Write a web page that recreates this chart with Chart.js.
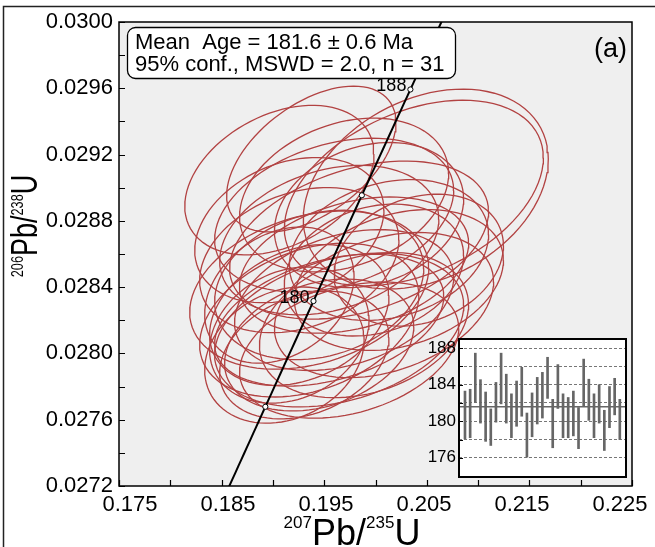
<!DOCTYPE html>
<html>
<head>
<meta charset="utf-8">
<script src="https://cdn.jsdelivr.net/npm/chart.js@4.4.0/dist/chart.umd.min.js"></script>
<style>
  html, body { margin: 0; padding: 0; background: #fff; }
  #wrap { position: relative; width: 655px; height: 547px; overflow: hidden; }
  #main { position: absolute; left: 0; top: 0; }
  #inset { position: absolute; left: 420px; top: 330px; }
</style>
</head>
<body>
<div id="wrap">
  <canvas id="main" width="655" height="547"></canvas>
  <canvas id="inset" width="212" height="152"></canvas>
</div>
<script>
// axis ticks
const xTicks = [0.175, 0.185, 0.195, 0.205, 0.215, 0.225];
const yTicks = [0.0272, 0.0276, 0.0280, 0.0284, 0.0288, 0.0292, 0.0296, 0.0300];

// spot analyses: 207Pb/235U, 206Pb/238U, 2s errors, error correlation
const r75 = [0.19063, 0.19374, 0.20490, 0.20374, 0.19694, 0.19937, 0.19549, 0.20131, 0.19257, 0.19791,
             0.20228, 0.19451, 0.19063, 0.19694, 0.20083, 0.19257, 0.19549, 0.19888, 0.19160, 0.19451,
             0.19743, 0.19306, 0.19112, 0.19646, 0.19354, 0.19985, 0.19597, 0.19160, 0.19840, 0.20422, 0.19354];
const r68 = [0.029046, 0.029173, 0.028992, 0.028968, 0.028956, 0.028835, 0.028684, 0.028624, 0.028563, 0.028533,
             0.028443, 0.028413, 0.028352, 0.028322, 0.028292, 0.028232, 0.028201, 0.028171, 0.028111, 0.028051,
             0.028020, 0.027990, 0.027990, 0.028141, 0.028382, 0.028503, 0.028835, 0.028744, 0.028684, 0.028563, 0.028201];
const e75 = [0.00922, 0.00825, 0.01194, 0.01262, 0.01019, 0.00922, 0.01068, 0.00971, 0.00971, 0.01117,
             0.01019, 0.01019, 0.00728, 0.01068, 0.01068, 0.00874, 0.01117, 0.01019, 0.00777, 0.00922,
             0.01068, 0.00825, 0.00777, 0.01214, 0.01165, 0.00874, 0.01165, 0.00922, 0.01262, 0.00825, 0.01068];
const e68 = [0.000451, 0.000440, 0.000603, 0.000560, 0.000464, 0.000438, 0.000451, 0.000425, 0.000438, 0.000411,
             0.000425, 0.000451, 0.000411, 0.000425, 0.000438, 0.000425, 0.000398, 0.000438, 0.000411, 0.000398,
             0.000411, 0.000385, 0.000411, 0.000464, 0.000477, 0.000398, 0.000464, 0.000438, 0.000477, 0.000398, 0.000464];
const rho = [0.35, 0.50, 0.30, 0.38, 0.28, 0.22, 0.28, 0.22, 0.28, 0.32, 0.28, 0.22, 0.28, 0.32, 0.32, 0.28,
             0.36, 0.28, 0.22, 0.28, 0.32, 0.28, 0.22, 0.32, 0.28, 0.22, 0.32, 0.28, 0.36, 0.22, 0.32];

// concordia (ages in Ma)
const L238 = 1.55125e-4, L235 = 9.8485e-4; // per Ma
const markerAges = [176, 180, 184, 188];
const labelledAges = [180, 188];

// inset: 206Pb/238U ages of each spot (low / high of error bar)
const ageLow = [178.07, 178.2, 182.07, 179.8, 177.8, 177.35, 179.9, 181.9, 179.8, 178.2, 179.45, 180.55, 176.07,
                178.3, 179.7, 180.35, 182.5, 177.1, 181.4, 178.2, 178.2, 178.4, 177.0, 181.7, 180.1, 178.2,
                179.8, 176.8, 179.3, 180.7, 178.0];
const ageHigh = [183.3, 183.5, 187.45, 184.55, 183.2, 181.35, 184.25, 187.45, 185.15, 183.0, 184.4, 185.9, 180.9,
                 183.1, 184.8, 185.35, 187.0, 182.4, 186.2, 183.0, 182.6, 183.3, 181.5, 186.8, 184.6, 183.0,
                 184.0, 181.2, 183.8, 184.7, 182.4];
const insetGrid = [176, 178, 180, 182, 184, 186, 188];
const insetLabels = [176, 180, 184, 188];
const meanAge = 181.6;

const legendLines = ['Mean  Age = 181.6 \u00b1 0.6 Ma', '95% conf., MSWD = 2.0, n = 31'];

const FONT = '"Liberation Sans", Arial, sans-serif';
Chart.defaults.font.family = FONT;
Chart.defaults.color = '#000';

function ellipsePoints(i) {
    let pts = [];
    let s = Math.sqrt(1 - rho[i] * rho[i]);
    for (let k = 0; k <= 90; k++) {
        let t = k / 90 * Math.PI * 2;
        pts.push({
            x: r75[i] + e75[i] * Math.cos(t),
            y: r68[i] + e68[i] * (rho[i] * Math.cos(t) + s * Math.sin(t))
        });
    }
    return pts;
}

function concordiaPoint(age) {
    return { x: Math.exp(L235 * age) - 1, y: Math.exp(L238 * age) - 1 };
}

let curve = [];
for (let a = 168; a <= 196; a += 0.25) curve.push(concordiaPoint(a));

let datasets = [];
datasets.push({
    data: markerAges.map(concordiaPoint), showLine: false, order: -2,
    pointRadius: 2.6, pointBackgroundColor: '#fff', pointBorderColor: '#000', pointBorderWidth: 1
});
datasets.push({
    data: curve, showLine: true, order: -1, pointRadius: 0, borderColor: '#000', borderWidth: 2
});
for (let i = 0; i < r75.length; i++) {
    datasets.push({
        data: ellipsePoints(i), showLine: true, pointRadius: 0, order: 1,
        borderColor: '#b24242', borderWidth: 1.3, tension: 0
    });
}

function drawSup(ctx, parts, cx, base) {
    let total = 0;
    parts.forEach(p => { ctx.font = p.font; p.w = ctx.measureText(p.text).width; total += p.w; });
    let x = cx - total / 2;
    ctx.textAlign = 'left';
    ctx.textBaseline = 'alphabetic';
    parts.forEach(p => { ctx.font = p.font; ctx.fillText(p.text, x, base + p.dy); x += p.w; });
}

function titleParts(a, b, rise) {
    let big = '36px ' + FONT, small = '17px ' + FONT;
    return [
        { text: a, font: small, dy: -rise },
        { text: 'Pb/', font: big, dy: 0 },
        { text: b, font: small, dy: -rise },
        { text: 'U', font: big, dy: 0 }
    ];
}

const mainDecor = {
    id: 'mainDecor',
    beforeDraw(chart) {
        const ctx = chart.ctx, a = chart.chartArea;
        ctx.save();
        ctx.fillStyle = '#efefef';
        ctx.fillRect(a.left, a.top, a.right - a.left, a.bottom - a.top);
        ctx.strokeStyle = '#222';
        ctx.lineWidth = 1.5;
        ctx.beginPath();
        ctx.moveTo(3.5, 547);
        ctx.lineTo(3.5, 6.5);
        ctx.lineTo(655, 6.5);
        ctx.stroke();
        ctx.restore();
    },
    afterDatasetsDraw(chart) {
        const ctx = chart.ctx, a = chart.chartArea;
        const xs = chart.scales.x, ys = chart.scales.y;
        ctx.save();
        // concordia age labels
        ctx.font = '18px ' + FONT;
        ctx.fillStyle = '#000';
        ctx.textAlign = 'right';
        ctx.textBaseline = 'middle';
        labelledAges.forEach(age => {
            let p = concordiaPoint(age);
            ctx.fillText(String(age), xs.getPixelForValue(p.x) - 4, ys.getPixelForValue(p.y) - 3);
        });
        // legend box
        ctx.beginPath();
        ctx.roundRect(127.5, 27.5, 328, 51, 8);
        ctx.fillStyle = '#fff';
        ctx.fill();
        ctx.strokeStyle = '#000';
        ctx.lineWidth = 1.3;
        ctx.stroke();
        ctx.fillStyle = '#000';
        ctx.font = '22px ' + FONT;
        ctx.textAlign = 'left';
        ctx.textBaseline = 'alphabetic';
        ctx.fillText(legendLines[0], 135, 49);
        ctx.fillText(legendLines[1], 135, 71);
        ctx.font = '27px ' + FONT;
        ctx.textAlign = 'right';
        ctx.fillText('(a)', a.right - 5, 57);
        // frame and inward ticks
        ctx.strokeStyle = '#000';
        ctx.lineWidth = 1.5;
        ctx.strokeRect(a.left, a.top, a.right - a.left, a.bottom - a.top);
        ctx.lineWidth = 1.2;
        ctx.beginPath();
        for (let v = xs.min; v <= xs.max + 1e-9; v += 0.005) {
            let px = Math.round(xs.getPixelForValue(v)) + 0.5;
            ctx.moveTo(px, a.bottom);
            ctx.lineTo(px, a.bottom - 6);
        }
        for (let v = ys.min; v <= ys.max + 1e-9; v += 0.0002) {
            let py = Math.round(ys.getPixelForValue(v)) + 0.5;
            ctx.moveTo(a.left, py);
            ctx.lineTo(a.left + 6, py);
        }
        ctx.stroke();
        // axis titles
        ctx.fillStyle = '#000';
        drawSup(ctx, titleParts('207', '235', 17), 352, 545);
        ctx.translate(37, 226);
        ctx.rotate(-Math.PI / 2);
        ctx.scale(0.75, 1);
        drawSup(ctx, titleParts('206', '238', 14), 0, 0);
        ctx.restore();
    }
};

new Chart(document.getElementById('main'), {
    type: 'scatter',
    data: { datasets: datasets },
    options: {
        responsive: false,
        animation: false,
        layout: { padding: { top: 22, right: 23, left: 0, bottom: 0 } },
        plugins: { legend: { display: false }, tooltip: { enabled: false } },
        scales: {
            x: {
                type: 'linear', min: 0.175, max: 0.225,
                afterFit: s => { s.height = 0; s.paddingLeft = 0; s.paddingRight = 0; },
                grid: { display: false, drawTicks: false },
                border: { display: false },
                ticks: { display: false }
            },
            // label row under the x axis (labels sit slightly off the tick positions)
            xl: {
                type: 'linear', position: 'bottom', min: 0.1738775, max: 0.2262245,
                afterBuildTicks: s => { s.ticks = xTicks.map(v => ({ value: v })); },
                afterFit: s => { s.height = 61; s.paddingLeft = 0; s.paddingRight = 0; },
                grid: { display: false, drawTicks: false },
                border: { display: false },
                ticks: { padding: 6, maxRotation: 0, autoSkip: false, font: { size: 22 },
                         callback: v => v.toFixed(3) }
            },
            y: {
                type: 'linear', min: 0.0272, max: 0.0300,
                afterBuildTicks: s => { s.ticks = yTicks.map(v => ({ value: v })); },
                afterFit: s => { s.width = 119; s.paddingTop = 0; s.paddingBottom = 0; },
                grid: { display: false, drawTicks: false },
                border: { display: false },
                ticks: { padding: 6, autoSkip: false, font: { size: 22 },
                         callback: v => v.toFixed(4) }
            }
        }
    },
    plugins: [mainDecor]
});

const insetDecor = {
    id: 'insetDecor',
    beforeDraw(chart) {
        const ctx = chart.ctx, a = chart.chartArea;
        ctx.save();
        ctx.fillStyle = '#fff';
        ctx.fillRect(a.left, a.top, a.right - a.left, a.bottom - a.top);
        ctx.restore();
    },
    beforeDatasetsDraw(chart) {
        const ctx = chart.ctx, a = chart.chartArea, ys = chart.scales.y;
        ctx.save();
        ctx.strokeStyle = '#666';
        ctx.lineWidth = 1.5;
        let py = ys.getPixelForValue(meanAge);
        ctx.beginPath();
        ctx.moveTo(a.left, py);
        ctx.lineTo(a.right, py);
        ctx.stroke();
        ctx.restore();
    },
    afterDraw(chart) {
        const ctx = chart.ctx, a = chart.chartArea, ys = chart.scales.y;
        ctx.save();
        ctx.strokeStyle = '#000';
        ctx.lineWidth = 2;
        ctx.strokeRect(a.left, a.top, a.right - a.left, a.bottom - a.top);
        ctx.lineWidth = 1;
        ctx.beginPath();
        insetGrid.forEach(v => {
            let py = Math.round(ys.getPixelForValue(v)) + 0.5;
            ctx.moveTo(a.left, py);
            ctx.lineTo(a.left + 4, py);
        });
        ctx.stroke();
        ctx.restore();
    }
};

new Chart(document.getElementById('inset'), {
    type: 'bar',
    data: {
        datasets: [{
            data: ageLow.map((lo, i) => ({ x: i + 1, y: [lo, ageHigh[i]] })),
            backgroundColor: '#666', borderWidth: 0, barThickness: 2
        }]
    },
    options: {
        responsive: false,
        animation: false,
        layout: { padding: { top: 9, right: 6, bottom: 5, left: 0 } },
        plugins: { legend: { display: false }, tooltip: { enabled: false } },
        scales: {
            x: { type: 'linear', min: -0.16, max: 32.2, offset: false, display: false },
            y: {
                min: 173.9, max: 189,
                afterBuildTicks: s => { s.ticks = insetGrid.map(v => ({ value: v })); },
                afterFit: s => { s.width = 39; s.paddingTop = 0; s.paddingBottom = 0; },
                grid: { color: '#777', lineWidth: 1, drawTicks: false },
                border: { display: false, dash: [3, 2] },
                ticks: { padding: 3, autoSkip: false, font: { size: 17 },
                         callback: v => insetLabels.includes(v) ? String(v) : '' }
            }
        }
    },
    plugins: [insetDecor]
});
</script>
</body>
</html>
